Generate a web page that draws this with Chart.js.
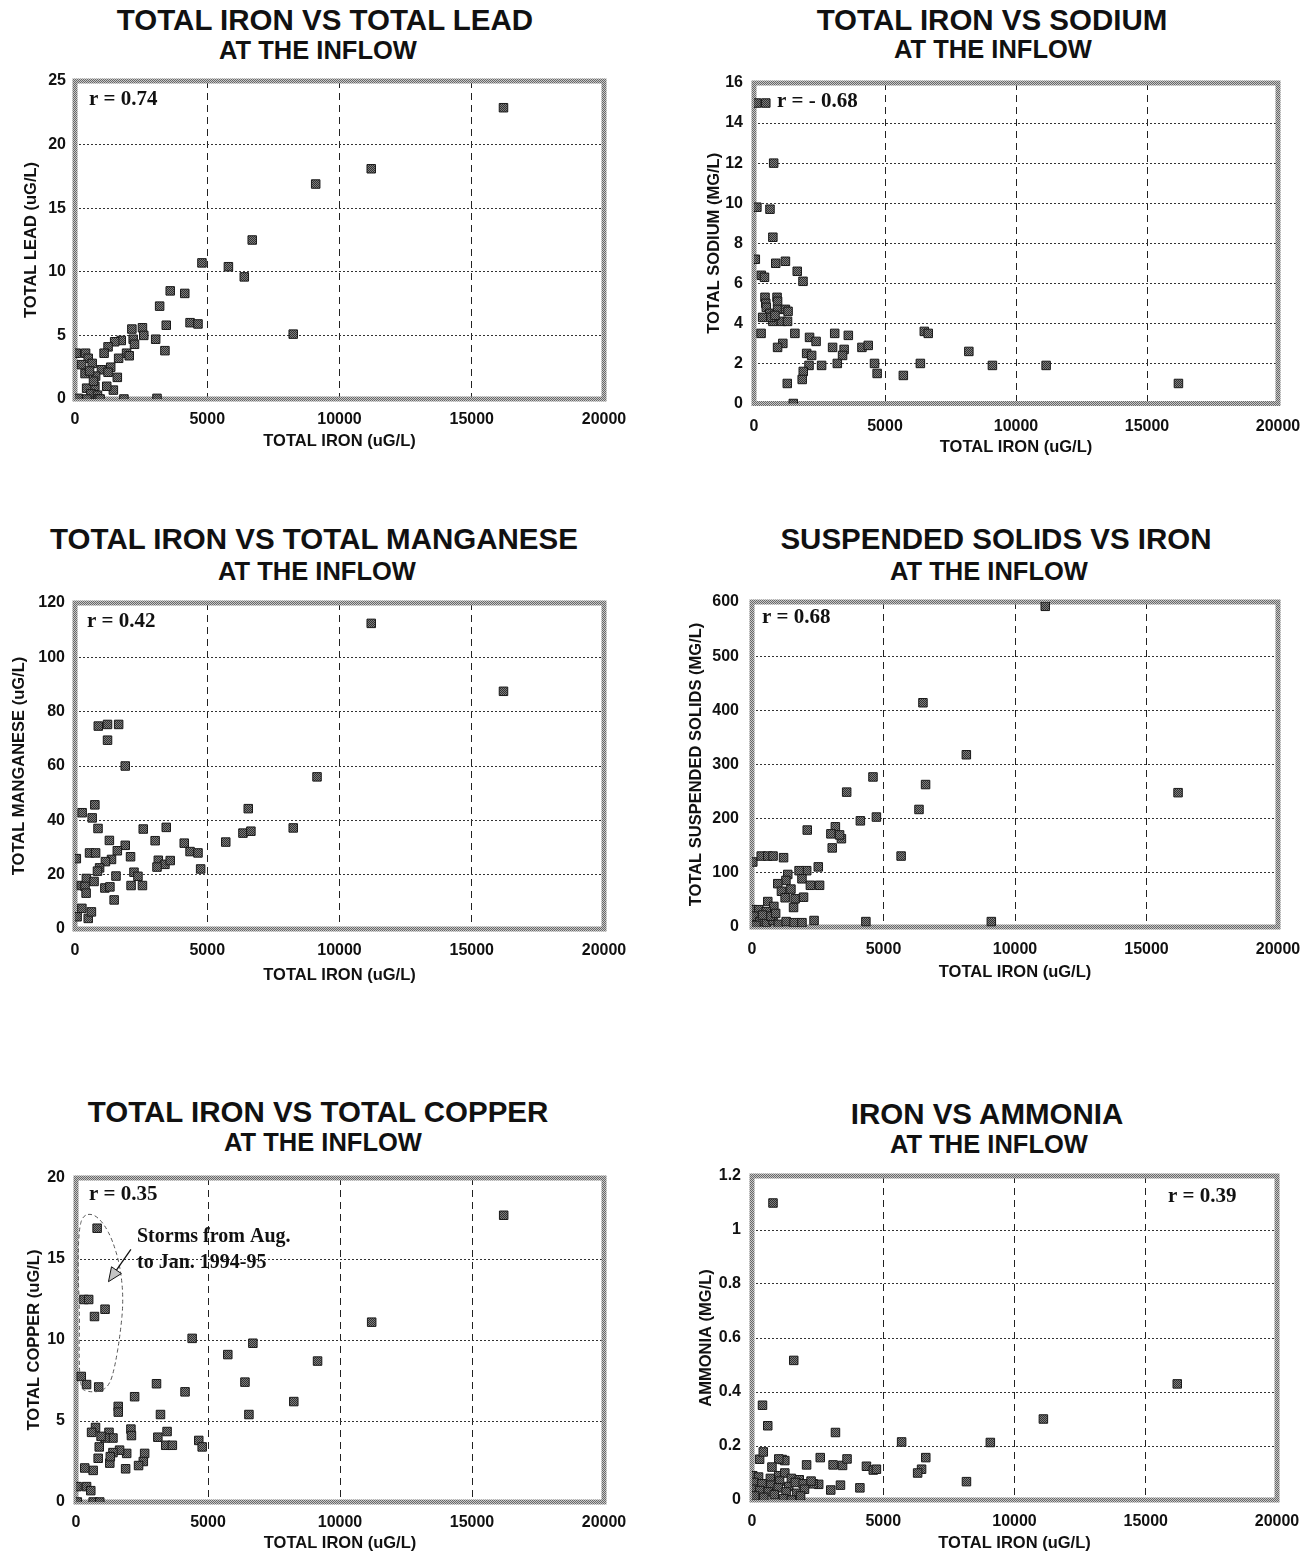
<!DOCTYPE html>
<html><head><meta charset="utf-8">
<script src="https://cdn.jsdelivr.net/npm/chart.js@4.4.0/dist/chart.umd.min.js"></script>
<style>
html,body{margin:0;padding:0;background:#fff}
body{width:1316px;height:1553px;position:relative;overflow:hidden}
canvas{position:absolute}
.t{position:absolute;font-family:"Liberation Sans",Arial,sans-serif;font-weight:bold;color:#111;white-space:nowrap;transform:translate(-50%,-50%);line-height:1}
.t1{font-size:29.5px}.t2{font-size:25.5px}
</style></head><body>
<div class="t t1" style="left:325px;top:20px">TOTAL IRON VS TOTAL LEAD</div>
<div class="t t2" style="left:318px;top:51px">AT THE INFLOW</div>
<div class="t t1" style="left:992px;top:20px">TOTAL IRON VS SODIUM</div>
<div class="t t2" style="left:993px;top:50px">AT THE INFLOW</div>
<div class="t t1" style="left:314px;top:539px">TOTAL IRON VS TOTAL MANGANESE</div>
<div class="t t2" style="left:317px;top:572px">AT THE INFLOW</div>
<div class="t t1" style="left:996px;top:539px">SUSPENDED SOLIDS VS IRON</div>
<div class="t t2" style="left:989px;top:572px">AT THE INFLOW</div>
<div class="t t1" style="left:318px;top:1112px">TOTAL IRON VS TOTAL COPPER</div>
<div class="t t2" style="left:323px;top:1143px">AT THE INFLOW</div>
<div class="t t1" style="left:987px;top:1114px">IRON VS AMMONIA</div>
<div class="t t2" style="left:989px;top:1145px">AT THE INFLOW</div>
<script>
// ---------- DATA ----------
const xTicks = [0, 5000, 10000, 15000, 20000];

const ironLead = [16200,11200,9100,6700,4800,5800,6400,8250,3600,4150,3200,4350,4650,3450,3400,3050,3100,2550,2600,2150,2200,2250,1750,1500,1950,2050,1650,1250,1100,1350,1000,1250,1600,1450,1850,1200,50,400,500,250,650,380,780,750,440,600,850,120,450,880,700,550,950];
const lead = [22.9,18.1,16.9,12.5,10.7,10.4,9.6,5.1,8.5,8.3,7.3,6.0,5.9,5.8,3.8,4.7,0.05,5.6,5.0,5.5,4.7,4.3,4.6,4.5,3.6,3.4,3.2,4.1,3.6,2.5,2.3,2.1,1.7,0.7,0.0,1.0,3.6,3.6,3.2,2.7,2.8,2.0,1.8,1.0,0.85,0.4,0.3,0.05,0.0,0.0,1.4,2.2,0.0];

const ironNa = [100,450,750,110,610,720,50,830,1200,1650,1870,280,400,420,880,450,900,470,600,900,1200,1300,330,720,1050,1280,650,800,270,1560,1100,900,2120,2370,3080,3600,3000,3440,3380,4120,4360,2010,2200,2100,2580,3180,4600,4700,1880,1840,1270,1500,5700,6350,6500,6650,8200,9100,11150,16200];
const sodium = [15.0,15.0,12.0,9.8,9.7,8.3,7.2,7.0,7.1,6.6,6.1,6.4,6.3,5.3,5.3,5.0,5.1,4.8,4.5,4.7,4.7,4.6,4.3,4.1,4.1,4.1,4.3,4.4,3.5,3.5,3.0,2.8,3.3,3.1,3.5,3.4,2.8,2.7,2.4,2.8,2.9,2.5,2.4,1.9,1.9,2.0,2.0,1.5,1.6,1.2,1.0,0.0,1.4,2.0,3.6,3.5,2.6,1.9,1.9,1.0];

const ironMn = [11200,16200,9150,6550,6350,6650,8250,5700,4130,4350,4650,4750,3450,2580,3030,3150,3400,3600,3100,2550,2120,2230,2380,1900,2100,1600,1900,1650,1230,880,1230,1300,870,750,650,270,550,780,1380,1150,930,850,50,240,430,380,420,720,1130,1320,1550,1480,260,80,500,620];
const manganese = [112.5,87.5,56,44.3,35.3,36,37.2,32,31.6,28.5,28,22.1,37.4,36.8,32.5,25.3,23.8,25.2,22.8,16,16,20.9,19.4,30.8,26.6,28.8,60,75.3,75.3,74.7,69.5,32.6,37,45.7,40.9,42.8,28,28,25.6,24.8,22.5,21.3,25.9,16,18.6,15.7,13.2,17.5,15.1,15.5,19.5,10.7,7.6,4.5,3.9,6.3];

const ironTss = [11150,6500,8150,16200,4600,6600,3600,6350,4730,4120,2100,3170,3000,3400,3330,3050,5670,30,350,600,800,1200,2520,2080,1790,1360,1900,1290,2220,2570,980,1480,1120,1260,1640,1960,1580,600,830,20,260,540,80,2360,4330,9100,300,550,800,1000,1300,1600,1900,150,700,400,900];
const tss = [592,414,318,248,277,263,249,217,203,196,179,185,172,163,170,146,131,120,131,131,131,128,111,104,104,97,89,86,77,77,80,70,66,54,52,55,36,47,38,32,32,28,20,12,10,10,10,8,12,5,10,8,8,3,20,22,25];

const ironCu = [16200,11200,9150,8250,6700,6400,6550,5750,4400,4130,4650,4780,3050,3200,3100,3450,3400,3650,2220,2080,2100,2600,2550,2370,1880,1920,1600,1600,1650,1400,1250,1400,1100,1280,1300,880,950,740,590,840,650,330,40,400,560,50,650,900,200,400,860,300,480,700,1100,800];
const copper = [17.7,11.1,8.7,6.2,9.8,7.4,5.4,9.1,10.1,6.8,3.8,3.4,7.3,5.4,4.0,4.35,3.5,3.5,6.5,4.5,4.1,3.0,2.5,2.25,2.05,3.0,5.9,5.55,3.2,3.05,4.3,3.95,3.95,2.4,2.8,3.4,4.05,4.6,4.3,2.7,1.95,2.1,0.95,0.95,0.7,0,0,0,7.75,7.25,7.1,12.5,12.5,11.45,11.9,16.9];

const ironNh3 = [800,1590,16200,11100,9080,5700,3180,400,600,6620,6460,6310,8170,4360,4620,4740,4110,3370,3000,3090,3450,3620,2080,2600,2540,2330,1150,1250,1020,760,290,430,30,250,700,1020,1250,1500,1800,80,380,720,1050,1400,1650,1950,2250,50,300,620,1000,1300,1700,2000,100,450,850,1200,1500,1850];
const ammonia = [1.10,0.517,0.43,0.30,0.213,0.215,0.25,0.351,0.275,0.157,0.114,0.100,0.068,0.125,0.111,0.114,0.045,0.055,0.037,0.13,0.128,0.152,0.13,0.157,0.058,0.06,0.15,0.146,0.152,0.122,0.151,0.178,0.09,0.085,0.08,0.09,0.1,0.08,0.075,0.065,0.06,0.055,0.07,0.05,0.065,0.06,0.07,0.04,0.035,0.03,0.045,0.03,0.025,0.04,0.015,0.01,0.02,0.005,0.0,0.015];

const rValues = ['r = 0.74', 'r = - 0.68', 'r = 0.42', 'r = 0.68', 'r = 0.35', 'r = 0.39'];
const stormNote = ['Storms from Aug.', 'to Jan. 1994-95'];

// ---------- STYLE HELPERS ----------
function pattern(a, b) {
  const c = document.createElement('canvas'); c.width = 2; c.height = 2;
  const g = c.getContext('2d');
  g.fillStyle = a; g.fillRect(0, 0, 2, 2);
  g.fillStyle = b; g.fillRect(0, 0, 1, 1); g.fillRect(1, 1, 1, 1);
  return g.createPattern(c, 'repeat');
}
const markFill = pattern('#7e7e7e', '#303030');
const frameFill = pattern('#c8c8c8', '#686868');
const SANS = '"Liberation Sans", Arial, sans-serif';
const SERIF = '"Liberation Serif", "Times New Roman", serif';

const framePlugin = {
  id: 'frame',
  beforeDatasetsDraw(chart) {
    const { ctx, chartArea: a } = chart;
    ctx.save();
    ctx.lineWidth = 5;
    ctx.strokeStyle = frameFill;
    ctx.strokeRect(a.left, a.top, a.right - a.left, a.bottom - a.top);
    ctx.restore();
  }
};

function notePlugin(o) {
  return {
    id: 'note',
    afterDatasetsDraw(chart) {
      const { ctx } = chart;
      ctx.save();
      ctx.fillStyle = '#111';
      ctx.font = 'bold 21px ' + SERIF;
      ctx.textBaseline = 'middle';
      ctx.textAlign = 'left';
      ctx.fillText(o.r, o.rx - o.x, o.ry - o.y);
      if (o.storm) {
        const xs = chart.scales.x, ys = chart.scales.y;
        const P = p => [xs.getPixelForValue(p[0]), ys.getPixelForValue(p[1])];
        const loop = [[260,17.7],[650,17.8],[1050,17.2],[1400,16.1],[1680,14.5],[1800,12.5],[1680,10.4],[1480,8.4],[1270,7.2],[900,6.8],[450,6.8],[170,7.0],[110,9.0],[140,11.5],[70,14.5],[110,16.8],[260,17.7]].map(P);
        ctx.beginPath();
        ctx.setLineDash([4, 3]);
        ctx.strokeStyle = '#555';
        ctx.lineWidth = 1;
        ctx.moveTo((loop[0][0] + loop[1][0]) / 2, (loop[0][1] + loop[1][1]) / 2);
        for (let i = 1; i < loop.length - 1; i++) {
          const m = [(loop[i][0] + loop[i + 1][0]) / 2, (loop[i][1] + loop[i + 1][1]) / 2];
          ctx.quadraticCurveTo(loop[i][0], loop[i][1], m[0], m[1]);
        }
        ctx.quadraticCurveTo(loop[0][0], loop[0][1], (loop[0][0] + loop[1][0]) / 2, (loop[0][1] + loop[1][1]) / 2);
        ctx.stroke();
        ctx.setLineDash([]);
        // arrow
        const s = P([2080, 15.6]), t = P([1230, 13.6]);
        const ang = Math.atan2(t[1] - s[1], t[0] - s[0]);
        const L = 14, W = 6;
        const bx = t[0] - L * Math.cos(ang), by = t[1] - L * Math.sin(ang);
        ctx.strokeStyle = '#111'; ctx.lineWidth = 1.3;
        ctx.beginPath(); ctx.moveTo(s[0], s[1]); ctx.lineTo(bx, by); ctx.stroke();
        ctx.beginPath();
        ctx.moveTo(t[0], t[1]);
        ctx.lineTo(bx + W * Math.sin(ang), by - W * Math.cos(ang));
        ctx.lineTo(bx - W * Math.sin(ang), by + W * Math.cos(ang));
        ctx.closePath();
        ctx.fillStyle = '#c4c4c4'; ctx.fill(); ctx.lineWidth = 1; ctx.stroke();
        ctx.fillStyle = '#111';
        ctx.font = 'bold 20px ' + SERIF;
        ctx.fillText(o.storm[0], 137 - o.x, 1237 - o.y);
        ctx.fillText(o.storm[1], 137 - o.x, 1263 - o.y);
      }
      ctx.restore();
    }
  };
}

function build(o) {
  const cv = document.createElement('canvas');
  cv.width = o.w; cv.height = o.h;
  cv.style.left = o.x + 'px'; cv.style.top = o.y + 'px';
  cv.style.width = o.w + 'px'; cv.style.height = o.h + 'px';
  document.body.appendChild(cv);
  const XH = 56;
  const yw = o.ca[0] - o.x;
  const pad = { left: 0, right: o.x + o.w - o.ca[1], top: o.ca[2] - o.y, bottom: o.y + o.h - o.ca[3] - XH };
  const tickFont = { family: SANS, size: 16, weight: 'bold', lineHeight: 1.2 };
  const titleFont = { family: SANS, size: 16.5, weight: 'bold', lineHeight: 1.2 };
  new Chart(cv, {
    type: 'scatter',
    data: { datasets: [{
      data: o.xs.map((v, i) => ({ x: v, y: o.ys[i] })),
      pointStyle: 'rect', pointRadius: 6, pointHoverRadius: 6,
      backgroundColor: markFill, borderColor: '#1a1a1a', borderWidth: 1
    }] },
    options: {
      responsive: false, devicePixelRatio: 1, animation: false, events: [],
      layout: { padding: pad },
      plugins: { legend: { display: false }, tooltip: { enabled: false } },
      scales: {
        x: {
          type: 'linear', min: 0, max: 20000,
          afterFit: s => { s.height = XH; },
          afterBuildTicks: s => { s.ticks = xTicks.map(v => ({ value: v })); },
          ticks: { callback: v => String(v), font: tickFont, color: '#111', padding: o.xlab - o.ca[3] - 9.6, maxRotation: 0, autoSkip: false },
          grid: { drawTicks: false, lineWidth: 1, color: c => (c.tick && (c.tick.value === 0 || c.tick.value === 20000)) ? 'rgba(0,0,0,0)' : '#222' },
          border: { display: false, dash: [7, 5] },
          title: { display: true, text: 'TOTAL IRON (uG/L)', font: titleFont, color: '#111', padding: { top: 0, bottom: Math.max(0, o.ca[3] + XH - 9.9 - o.xtit) } }
        },
        y: {
          min: 0, max: o.ymax,
          afterFit: s => { s.width = yw; },
          afterBuildTicks: s => { s.ticks = o.yt.map(v => ({ value: v })); },
          ticks: { callback: v => String(Math.round(v * 10) / 10), font: tickFont, color: '#111', padding: o.ypad },
          grid: { drawTicks: false, lineWidth: 1, color: c => (c.tick && (c.tick.value === 0 || c.tick.value === o.ymax)) ? 'rgba(0,0,0,0)' : '#333' },
          border: { display: false, dash: [2, 2] },
          title: { display: true, text: o.ytitle, font: titleFont, color: '#111', padding: { top: o.ytx - o.x - 9.9, bottom: 0 } }
        }
      }
    },
    plugins: [framePlugin, notePlugin(o)]
  });
}

build({ x: 0, y: 0, w: 658, h: 480, ca: [75, 604, 81, 399], xs: ironLead, ys: lead, ymax: 25, yt: [0,5,10,15,20,25],
  ytitle: 'TOTAL LEAD (uG/L)', ytx: 31, ypad: 9, xlab: 420, xtit: 441, r: rValues[0], rx: 89, ry: 100 });
build({ x: 658, y: 0, w: 658, h: 480, ca: [754, 1278, 83, 403.5], xs: ironNa, ys: sodium, ymax: 16, yt: [0,2,4,6,8,10,12,14,16],
  ytitle: 'TOTAL SODIUM (MG/L)', ytx: 714, ypad: 11, xlab: 427, xtit: 447, r: rValues[1], rx: 777, ry: 102 });
build({ x: 0, y: 520, w: 658, h: 480, ca: [75, 604, 603, 929], xs: ironMn, ys: manganese, ymax: 120, yt: [0,20,40,60,80,100,120],
  ytitle: 'TOTAL MANGANESE (uG/L)', ytx: 19, ypad: 10, xlab: 951, xtit: 975, r: rValues[2], rx: 87, ry: 622 });
build({ x: 658, y: 520, w: 658, h: 480, ca: [752, 1278, 602, 927], xs: ironTss, ys: tss, ymax: 600, yt: [0,100,200,300,400,500,600],
  ytitle: 'TOTAL SUSPENDED SOLIDS (MG/L)', ytx: 696, ypad: 13, xlab: 950, xtit: 972, r: rValues[3], rx: 762, ry: 618 });
build({ x: 0, y: 1080, w: 658, h: 480, ca: [76, 604, 1178, 1502], xs: ironCu, ys: copper, ymax: 20, yt: [0,5,10,15,20],
  ytitle: 'TOTAL COPPER (uG/L)', ytx: 34, ypad: 11, xlab: 1523, xtit: 1543, r: rValues[4], rx: 89, ry: 1195, storm: stormNote });
build({ x: 658, y: 1080, w: 658, h: 480, ca: [752, 1277, 1176, 1500], xs: ironNh3, ys: ammonia, ymax: 1.2, yt: [0,0.2,0.4,0.6,0.8,1,1.2],
  ytitle: 'AMMONIA (MG/L)', ytx: 706, ypad: 11, xlab: 1522, xtit: 1543, r: rValues[5], rx: 1168, ry: 1197 });
</script>
</body></html>
